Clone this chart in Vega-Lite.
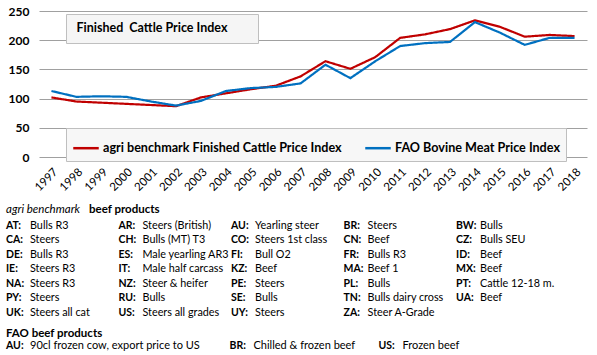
{
  "$schema": "https://vega.github.io/schema/vega-lite/v6.json",
  "padding": {"left": 5, "top": 5, "right": 5, "bottom": 0},
  "background": "white",
  "config": {
    "view": {"stroke": null},
    "font": "Lato",
    "text": {"font": "Lato"}
  },
  "spacing": 10,
  "datasets": {
    "ts": [
      {"year": "1997", "series": "agri benchmark Finished Cattle Price Index", "value": 102},
      {"year": "1998", "series": "agri benchmark Finished Cattle Price Index", "value": 95},
      {"year": "1999", "series": "agri benchmark Finished Cattle Price Index", "value": 93},
      {"year": "2000", "series": "agri benchmark Finished Cattle Price Index", "value": 91},
      {"year": "2001", "series": "agri benchmark Finished Cattle Price Index", "value": 89},
      {"year": "2002", "series": "agri benchmark Finished Cattle Price Index", "value": 87},
      {"year": "2003", "series": "agri benchmark Finished Cattle Price Index", "value": 102},
      {"year": "2004", "series": "agri benchmark Finished Cattle Price Index", "value": 109},
      {"year": "2005", "series": "agri benchmark Finished Cattle Price Index", "value": 116},
      {"year": "2006", "series": "agri benchmark Finished Cattle Price Index", "value": 122},
      {"year": "2007", "series": "agri benchmark Finished Cattle Price Index", "value": 138},
      {"year": "2008", "series": "agri benchmark Finished Cattle Price Index", "value": 164},
      {"year": "2009", "series": "agri benchmark Finished Cattle Price Index", "value": 151},
      {"year": "2010", "series": "agri benchmark Finished Cattle Price Index", "value": 171},
      {"year": "2011", "series": "agri benchmark Finished Cattle Price Index", "value": 204},
      {"year": "2012", "series": "agri benchmark Finished Cattle Price Index", "value": 210},
      {"year": "2013", "series": "agri benchmark Finished Cattle Price Index", "value": 219},
      {"year": "2014", "series": "agri benchmark Finished Cattle Price Index", "value": 234},
      {"year": "2015", "series": "agri benchmark Finished Cattle Price Index", "value": 223},
      {"year": "2016", "series": "agri benchmark Finished Cattle Price Index", "value": 206},
      {"year": "2017", "series": "agri benchmark Finished Cattle Price Index", "value": 209},
      {"year": "2018", "series": "agri benchmark Finished Cattle Price Index", "value": 207},
      {"year": "1997", "series": "FAO Bovine Meat Price Index", "value": 113},
      {"year": "1998", "series": "FAO Bovine Meat Price Index", "value": 103},
      {"year": "1999", "series": "FAO Bovine Meat Price Index", "value": 104},
      {"year": "2000", "series": "FAO Bovine Meat Price Index", "value": 103},
      {"year": "2001", "series": "FAO Bovine Meat Price Index", "value": 95},
      {"year": "2002", "series": "FAO Bovine Meat Price Index", "value": 88},
      {"year": "2003", "series": "FAO Bovine Meat Price Index", "value": 96},
      {"year": "2004", "series": "FAO Bovine Meat Price Index", "value": 113},
      {"year": "2005", "series": "FAO Bovine Meat Price Index", "value": 118},
      {"year": "2006", "series": "FAO Bovine Meat Price Index", "value": 120},
      {"year": "2007", "series": "FAO Bovine Meat Price Index", "value": 126},
      {"year": "2008", "series": "FAO Bovine Meat Price Index", "value": 158},
      {"year": "2009", "series": "FAO Bovine Meat Price Index", "value": 135},
      {"year": "2010", "series": "FAO Bovine Meat Price Index", "value": 164},
      {"year": "2011", "series": "FAO Bovine Meat Price Index", "value": 190},
      {"year": "2012", "series": "FAO Bovine Meat Price Index", "value": 195},
      {"year": "2013", "series": "FAO Bovine Meat Price Index", "value": 197},
      {"year": "2014", "series": "FAO Bovine Meat Price Index", "value": 231},
      {"year": "2015", "series": "FAO Bovine Meat Price Index", "value": 213},
      {"year": "2016", "series": "FAO Bovine Meat Price Index", "value": 192},
      {"year": "2017", "series": "FAO Bovine Meat Price Index", "value": 204},
      {"year": "2018", "series": "FAO Bovine Meat Price Index", "value": 204}
    ],
    "notes": [
      {"sec": "h1", "row": 0, "col": 0, "code": "agri benchmark", "desc": "beef products"},
      {"sec": "ab", "row": 1, "col": 0, "code": "AT:", "desc": "Bulls R3"},
      {"sec": "ab", "row": 1, "col": 1, "code": "AR:", "desc": "Steers (British)"},
      {"sec": "ab", "row": 1, "col": 2, "code": "AU:", "desc": "Yearling steer"},
      {"sec": "ab", "row": 1, "col": 3, "code": "BR:", "desc": "Steers"},
      {"sec": "ab", "row": 1, "col": 4, "code": "BW:", "desc": "Bulls"},
      {"sec": "ab", "row": 2, "col": 0, "code": "CA:", "desc": "Steers"},
      {"sec": "ab", "row": 2, "col": 1, "code": "CH:", "desc": "Bulls (MT) T3"},
      {"sec": "ab", "row": 2, "col": 2, "code": "CO:", "desc": "Steers 1st class"},
      {"sec": "ab", "row": 2, "col": 3, "code": "CN:", "desc": "Beef"},
      {"sec": "ab", "row": 2, "col": 4, "code": "CZ:", "desc": "Bulls SEU"},
      {"sec": "ab", "row": 3, "col": 0, "code": "DE:", "desc": "Bulls R3"},
      {"sec": "ab", "row": 3, "col": 1, "code": "ES:", "desc": "Male yearling AR3"},
      {"sec": "ab", "row": 3, "col": 2, "code": "FI:", "desc": "Bull O2"},
      {"sec": "ab", "row": 3, "col": 3, "code": "FR:", "desc": "Bulls R3"},
      {"sec": "ab", "row": 3, "col": 4, "code": "ID:", "desc": "Beef"},
      {"sec": "ab", "row": 4, "col": 0, "code": "IE:", "desc": "Steers R3"},
      {"sec": "ab", "row": 4, "col": 1, "code": "IT:", "desc": "Male half carcass"},
      {"sec": "ab", "row": 4, "col": 2, "code": "KZ:", "desc": "Beef"},
      {"sec": "ab", "row": 4, "col": 3, "code": "MA:", "desc": "Beef 1"},
      {"sec": "ab", "row": 4, "col": 4, "code": "MX:", "desc": "Beef"},
      {"sec": "ab", "row": 5, "col": 0, "code": "NA:", "desc": "Steers R3"},
      {"sec": "ab", "row": 5, "col": 1, "code": "NZ:", "desc": "Steer & heifer"},
      {"sec": "ab", "row": 5, "col": 2, "code": "PE:", "desc": "Steers"},
      {"sec": "ab", "row": 5, "col": 3, "code": "PL:", "desc": "Bulls"},
      {"sec": "ab", "row": 5, "col": 4, "code": "PT:", "desc": "Cattle 12-18 m."},
      {"sec": "ab", "row": 6, "col": 0, "code": "PY:", "desc": "Steers"},
      {"sec": "ab", "row": 6, "col": 1, "code": "RU:", "desc": "Bulls"},
      {"sec": "ab", "row": 6, "col": 2, "code": "SE:", "desc": "Bulls"},
      {"sec": "ab", "row": 6, "col": 3, "code": "TN:", "desc": "Bulls dairy cross"},
      {"sec": "ab", "row": 6, "col": 4, "code": "UA:", "desc": "Beef"},
      {"sec": "ab", "row": 7, "col": 0, "code": "UK:", "desc": "Steers all cat"},
      {"sec": "ab", "row": 7, "col": 1, "code": "US:", "desc": "Steers all grades"},
      {"sec": "ab", "row": 7, "col": 2, "code": "UY:", "desc": "Steers"},
      {"sec": "ab", "row": 7, "col": 3, "code": "ZA:", "desc": "Steer A-Grade"},
      {"sec": "h2", "row": 8, "col": 0, "code": "", "desc": "FAO beef products"},
      {"sec": "fao", "row": 9, "col": 0, "code": "AU:", "desc": "90cl frozen cow, export price to US"},
      {"sec": "fao", "row": 9, "col": 3, "code": "BR:", "desc": "Chilled & frozen beef"},
      {"sec": "fao", "row": 9, "col": 5, "code": "US:", "desc": "Frozen beef"}
    ]
  },
  "vconcat": [
    {
      "width": 548,
      "height": 146,
      "data": {"name": "ts"},
      "mark": {"type": "line", "strokeWidth": 2.2},
      "encoding": {
        "x": {
          "field": "year", "type": "ordinal",
          "axis": {"title": null, "labelAngle": -45, "labelFont": "Lato", "labelFontSize": 11.5, "labelColor": "#000", "ticks": false, "domain": false, "labelPadding": 9}
        },
        "y": {
          "field": "value", "type": "quantitative",
          "scale": {"domain": [0, 250]},
          "axis": {"title": null, "values": [0, 50, 100, 150, 200, 250], "domain": false, "ticks": false, "labelFont": "Lato", "labelFontWeight": "bold", "labelFontSize": 12, "labelColor": "#000", "labelPadding": 10, "gridColor": "#a0a0a0", "gridOpacity": 1}
        },
        "color": {
          "field": "series", "type": "nominal",
          "scale": {"domain": ["agri benchmark Finished Cattle Price Index", "FAO Bovine Meat Price Index"], "range": ["#c00000", "#0070c0"]},
          "legend": {"orient": "none", "legendX": 27, "legendY": 117, "direction": "horizontal", "title": null, "symbolType": "stroke", "symbolStrokeWidth": 2.5, "symbolSize": 650, "labelFont": "Lato", "labelFontWeight": "bold", "labelFontSize": 12.6, "labelColor": "#000", "labelLimit": 0, "fillColor": "#f7f7f7", "strokeColor": "#bfbfbf", "padding": 6, "columnPadding": 18, "labelOffset": 3}
        },
        "strokeDash": {
          "datum": "Finished\u00a0 Cattle Price Index",
          "scale": {"range": [[1, 0]]},
          "legend": {"orient": "none", "legendX": 27, "legendY": 3, "title": null, "symbolSize": 0, "symbolStrokeWidth": 0, "symbolOpacity": 0, "labelOffset": -10, "labelFont": "Lato", "labelFontWeight": "bold", "labelFontSize": 12.5, "labelColor": "#000", "labelLimit": 0, "fillColor": "#f5f5f5", "strokeColor": "#bfbfbf", "padding": 8, "labelExpr": "datum.label + '\u2007\u2007\u2007\u200b'"}
        }
      }
    },
    {
      "width": 548,
      "height": 130.5,
      "data": {"name": "notes"},
      "resolve": {"scale": {"x": "independent"}},
      "layer": [
        {
          "transform": [{"filter": "datum.sec == 'h1'"}],
          "mark": {"type": "text", "align": "left", "baseline": "middle", "font": "Lato", "fontSize": 11.5, "fontStyle": "italic", "color": "#000", "dy": -1.5},
          "encoding": {
            "x": {"field": "col", "type": "quantitative", "scale": {"domain": [0.2933, 5.164]}, "axis": null},
            "y": {"field": "row", "type": "ordinal", "scale": {"type": "point", "padding": 0, "domain": [0, 1, 2, 3, 4, 5, 6, 7, 8, 9]}, "axis": null},
            "text": {"field": "code"}
          }
        },
        {
          "transform": [{"filter": "datum.sec == 'h1'"}],
          "mark": {"type": "text", "align": "left", "baseline": "middle", "font": "Lato", "fontSize": 11.5, "fontWeight": "bold", "color": "#000", "dy": -1.5, "dx": 83},
          "encoding": {
            "x": {"field": "col", "type": "quantitative", "scale": {"domain": [0.2933, 5.164]}, "axis": null},
            "y": {"field": "row", "type": "ordinal", "axis": null},
            "text": {"field": "desc"}
          }
        },
        {
          "transform": [{"filter": "datum.sec == 'ab'"}],
          "mark": {"type": "text", "align": "left", "baseline": "middle", "font": "Lato", "fontSize": 10.5, "fontWeight": "bold", "color": "#000"},
          "encoding": {
            "x": {"field": "col", "type": "quantitative", "scale": {"domain": [0.2933, 5.164]}, "axis": null},
            "y": {"field": "row", "type": "ordinal", "axis": null},
            "text": {"field": "code"}
          }
        },
        {
          "transform": [{"filter": "datum.sec == 'ab'"}],
          "mark": {"type": "text", "align": "left", "baseline": "middle", "font": "Lato", "fontSize": 10.8, "color": "#000", "dx": 24},
          "encoding": {
            "x": {"field": "col", "type": "quantitative", "scale": {"domain": [0.2933, 5.164]}, "axis": null},
            "y": {"field": "row", "type": "ordinal", "axis": null},
            "text": {"field": "desc"}
          }
        },
        {
          "transform": [{"filter": "datum.sec == 'h2'"}],
          "mark": {"type": "text", "align": "left", "baseline": "middle", "font": "Lato", "fontSize": 11.5, "fontWeight": "bold", "color": "#000", "dy": 6.5},
          "encoding": {
            "x": {"field": "col", "type": "quantitative", "scale": {"domain": [0.2933, 5.164]}, "axis": null},
            "y": {"field": "row", "type": "ordinal", "axis": null},
            "text": {"field": "desc"}
          }
        },
        {
          "transform": [{"filter": "datum.sec == 'fao'"}],
          "mark": {"type": "text", "align": "left", "baseline": "middle", "font": "Lato", "fontSize": 10.5, "fontWeight": "bold", "color": "#000", "dy": 4},
          "encoding": {
            "x": {"field": "col", "type": "quantitative", "scale": {"domain": [0.443, 7.799]}, "axis": null},
            "y": {"field": "row", "type": "ordinal", "axis": null},
            "text": {"field": "code"}
          }
        },
        {
          "transform": [{"filter": "datum.sec == 'fao'"}],
          "mark": {"type": "text", "align": "left", "baseline": "middle", "font": "Lato", "fontSize": 11, "color": "#000", "dy": 4, "dx": 24},
          "encoding": {
            "x": {"field": "col", "type": "quantitative", "scale": {"domain": [0.443, 7.799]}, "axis": null},
            "y": {"field": "row", "type": "ordinal", "axis": null},
            "text": {"field": "desc"}
          }
        }
      ]
    }
  ]
}
